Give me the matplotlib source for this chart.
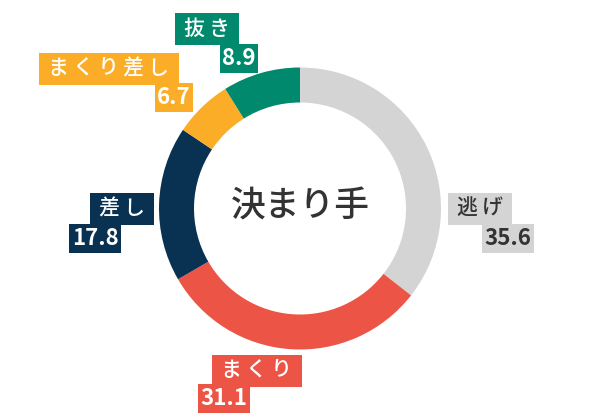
import matplotlib
matplotlib.use("Agg")
import matplotlib.pyplot as plt

plt.rcParams['font.family'] = ['Noto Sans CJK JP', 'DejaVu Sans']

# data
labels = ['逃げ', 'まくり', '差し', 'まくり差し', '抜き']
values = [35.6, 31.1, 17.8, 6.7, 8.9]
colors = ['#d4d4d4', '#ec5446', '#083152', '#fbad28', '#00896c']
text_colors = ['#333333', 'white', 'white', 'white', 'white']
title = '決まり手'

# layout (pixels relative to ring centre, y down): label box centre, number box centre
label_pos = [(180, 0), (-43, 162), (-178, 0), (-191, -140), (-93, -180)]
num_pos = [(208, 30), (-76, 190), (-205, 30), (-126, -111), (-61, -150)]

W, H = 600, 420
cx, cy = 300, 208.5
R, ring = 141, 35

fig = plt.figure(figsize=(6, 4.2), dpi=100, facecolor='white')
ax = fig.add_axes([0, 0, 1, 1])
ax.set_xlim(0, W)
ax.set_ylim(0, H)
ax.set_aspect('equal')
ax.axis('off')

ax.pie(values, colors=colors, startangle=90, counterclock=False,
       radius=R, center=(cx, H - cy),
       wedgeprops=dict(width=ring, edgecolor='none', linewidth=0))
ax.set_xlim(0, W)
ax.set_ylim(0, H)

ax.text(cx, H - cy + 2, title, ha='center', va='center', fontsize=25,
        color='#333333', fontweight='medium')

for i in range(len(labels)):
    lx, ly = label_pos[i]
    nx, ny = num_pos[i]
    ax.text(cx + lx, H - (cy + ly), '\u2009' + '\u2009'.join(labels[i]) + '\u2009',
            ha='center', va='center', fontsize=15, color=text_colors[i],
            fontweight='medium',
            bbox=dict(boxstyle='square,pad=0.24', fc=colors[i], ec='none'))
    ax.text(cx + nx, H - (cy + ny), '%.1f' % values[i],
            ha='center', va='center', fontsize=16, color=text_colors[i],
            fontweight='bold',
            bbox=dict(boxstyle='square,pad=0.12', fc=colors[i], ec='none'))

fig.savefig('out.png', dpi=100, facecolor='white')
